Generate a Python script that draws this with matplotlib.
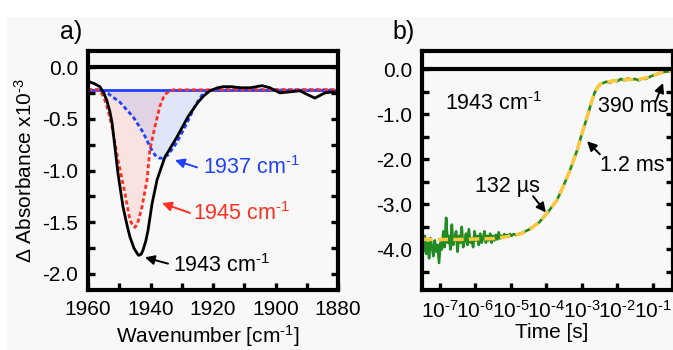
import numpy as np
import matplotlib.pyplot as plt
from matplotlib.patches import Rectangle
from matplotlib.ticker import FuncFormatter

plt.rcParams['font.family'] = ['Liberation Sans', 'DejaVu Sans']
plt.rcParams['mathtext.fontset'] = 'custom'
plt.rcParams['mathtext.rm'] = 'Liberation Sans'
plt.rcParams['mathtext.it'] = 'Liberation Sans:italic'
plt.rcParams['axes.unicode_minus'] = False

BLUE = '#2040ff'
RED = '#ff3020'
GREEN = '#228b22'
YELLOW = '#ffc83c'
BG = '#f8f8f8'
CM = r' cm$^{\text{-1}}$'

# ---- panel a: spectrum and two gaussian components ----
spec_wn = [1960, 1959.4, 1958, 1956.2, 1955, 1954, 1953, 1952.3, 1951.4, 1950.4, 1948.8,
           1947.5, 1946.6, 1945.3, 1944.3, 1943.8, 1943, 1942.4, 1941.5, 1940.8, 1939.5,
           1937.9, 1935.4, 1931.6, 1928, 1924.8, 1923, 1921, 1918.5, 1916.8, 1914, 1911.4,
           1908, 1904.3, 1901.8, 1898.6, 1895.4, 1892.2, 1889.5, 1887.4, 1884.2, 1881.6, 1880]
spec_abs = [-0.14, -0.145, -0.16, -0.19, -0.25, -0.32, -0.43, -0.54, -0.77, -1.03, -1.35,
            -1.53, -1.64, -1.75, -1.80, -1.82, -1.81, -1.77, -1.68, -1.58, -1.32,
            -1.09, -0.87, -0.68, -0.48, -0.34, -0.28, -0.23, -0.20, -0.19, -0.19, -0.20,
            -0.20, -0.18, -0.20, -0.25, -0.24, -0.23, -0.27, -0.30, -0.25, -0.24, -0.26]

red_wn = [1960, 1957, 1955.5, 1954.6, 1953.5, 1952.3, 1950.4, 1948.2, 1946.6, 1945.5, 1945,
          1944.2, 1942.7, 1941.1, 1940.2, 1938.6, 1937, 1935.8, 1934.8, 1932.8, 1880]
red_abs = [-0.22, -0.22, -0.26, -0.32, -0.43, -0.58, -0.90, -1.22, -1.48, -1.54, -1.55,
           -1.52, -1.35, -1.09, -0.80, -0.58, -0.38, -0.29, -0.25, -0.22, -0.22]

blue_wn = [1960, 1956, 1954, 1953, 1949.8, 1945.6, 1942.4, 1940.2, 1938.6, 1937.3, 1936.3,
           1934.4, 1931.6, 1928.3, 1925.8, 1923.5, 1921, 1880]
blue_abs = [-0.22, -0.22, -0.24, -0.27, -0.34, -0.48, -0.63, -0.77, -0.85, -0.88, -0.88,
            -0.85, -0.73, -0.54, -0.38, -0.27, -0.22, -0.22]
baseline = -0.22

# ---- panel b: kinetics at 1943 cm-1 ----
noisy_abs = [-3.95, -4.05, -3.70, -4.10, -3.85, -4.20, -3.75, -3.95, -4.15, -3.80, -4.05,
             -3.90, -4.30, -3.85, -4.00, -3.60, -3.95, -3.30, -3.85, -3.70, -4.00, -3.45,
             -3.90, -3.75, -3.60, -4.05, -3.70, -3.85, -3.50, -3.95, -3.80, -3.65, -3.90,
             -3.55, -3.85, -3.75, -3.95, -3.60, -3.80, -3.70, -3.90, -3.65, -3.85, -3.75,
             -3.60, -3.85, -3.70, -3.80, -3.65, -3.85, -3.70, -3.80, -3.68, -3.78, -3.62,
             -3.76, -3.70, -3.74, -3.66, -3.72, -3.68, -3.72, -3.66, -3.70, -3.67, -3.66]
noisy_logt = np.linspace(-7.5, -4.9, len(noisy_abs))

smooth_logt = [-4.86, -4.7, -4.46, -4.2, -3.98, -3.70, -3.53, -3.33, -3.13, -2.99, -2.85,
               -2.71, -2.63, -2.55, -2.49, -2.40, -2.3, -2.2, -2.1, -2.0, -1.9, -1.8, -1.7,
               -1.6, -1.5, -1.4, -1.3, -1.2, -1.08, -0.95, -0.80, -0.65, -0.5, -0.4]
smooth_abs = [-3.68, -3.64, -3.55, -3.40, -3.20, -2.91, -2.62, -2.24, -1.80, -1.42, -1.07,
              -0.69, -0.51, -0.40, -0.34, -0.31, -0.28, -0.30, -0.25, -0.27, -0.22, -0.25,
              -0.21, -0.24, -0.22, -0.25, -0.21, -0.22, -0.17, -0.13, -0.09, -0.06, -0.05, -0.03]

fit_logt = [-7.5, -6.5, -5.5, -5.2, -4.9, -4.7, -4.46, -4.2, -3.98, -3.70, -3.53, -3.33,
            -3.13, -2.99, -2.85, -2.71, -2.63, -2.55, -2.49, -2.3, -2.0, -1.7, -1.4, -1.1,
            -0.8, -0.6, -0.4]
fit_abs = [-3.78, -3.78, -3.76, -3.73, -3.69, -3.65, -3.55, -3.40, -3.20, -2.91, -2.62, -2.24,
           -1.80, -1.42, -1.07, -0.69, -0.51, -0.40, -0.34, -0.29, -0.25, -0.23, -0.23, -0.18,
           -0.09, -0.05, -0.03]

fig = plt.figure(figsize=(6.73, 3.5), dpi=100)
fig.patches.append(Rectangle((7 / 673, 0), 1, 333 / 350, transform=fig.transFigure,
                             facecolor=BG, edgecolor='none', zorder=-10))

ax1 = fig.add_axes([88 / 673, 60 / 350, 250 / 673, 239 / 350])
ax2 = fig.add_axes([422 / 673, 60 / 350, 251 / 673, 239 / 350])

for ax in (ax1, ax2):
    ax.set_facecolor('none')
    for s in ax.spines.values():
        s.set_linewidth(3)
    ax.tick_params(which='both', direction='in', length=5, width=2.4,
                   left=True, right=True, bottom=True, top=False, labelsize=15, pad=7)
    ax.axhline(0, color='black', lw=3, zorder=3)

# panel a
ax1.fill_between(red_wn, red_abs, baseline, color=RED, alpha=0.1, lw=0)
ax1.fill_between(blue_wn, blue_abs, baseline, color=BLUE, alpha=0.1, lw=0)
ax1.axhline(baseline, color=BLUE, lw=2)
ax1.plot(blue_wn, blue_abs, color=BLUE, lw=2, ls=(0, (1.5, 1)))
ax1.plot(red_wn, red_abs, color=RED, lw=2, ls=(0, (1.5, 1)))
ax1.plot(spec_wn, spec_abs, color='black', lw=2)
ax1.set_xlim(1960, 1880)
ax1.set_ylim(-2.155, 0.155)
ax1.set_xticks([1960, 1940, 1920, 1900, 1880])
ax1.set_xticks([1950, 1930, 1910, 1890], minor=True)
ax1.set_yticks([0.0, -0.5, -1.0, -1.5, -2.0])
ax1.set_yticks([-0.25, -0.75, -1.25, -1.75], minor=True)
ax1.yaxis.set_major_formatter(plt.FormatStrFormatter('%.1f'))
ax1.set_xlabel('Wavenumber [cm$^{\\text{-1}}$]', fontsize=15)
ax1.xaxis.set_label_coords(0.48, -0.14)
ax1.set_ylabel('Δ Absorbance x10$^{\\text{-3}}$', fontsize=15)
ax1.yaxis.set_label_coords(-0.21, 0.5)

arrow = dict(arrowstyle='-|>', lw=1.4, mutation_scale=14, shrinkA=0, shrinkB=0)
ax1.annotate('', xy=(1932.2, -0.90), xytext=(1925.1, -0.97),
             arrowprops=dict(arrow, color=BLUE))
ax1.text(1923.2, -0.97, '1937' + CM, color=BLUE, fontsize=15.5, va='center')
ax1.annotate('', xy=(1936.3, -1.315), xytext=(1927.4, -1.41),
             arrowprops=dict(arrow, color=RED))
ax1.text(1926.4, -1.42, '1945' + CM, color=RED, fontsize=15.5, va='center')
ax1.annotate('', xy=(1941.8, -1.84), xytext=(1934.4, -1.90),
             arrowprops=dict(arrow, color='black'))
ax1.text(1932.8, -1.915, '1943' + CM, color='black', fontsize=15.5, va='center')

# panel b
t_noisy = 10 ** noisy_logt
t_smooth = 10 ** np.array(smooth_logt)
t_fit = 10 ** np.array(fit_logt)
ax2.plot(np.concatenate([t_noisy, t_smooth]), noisy_abs + smooth_abs, color=GREEN, lw=1.9)
ax2.plot(t_fit, fit_abs, color=YELLOW, lw=2.5, ls=(0, (3, 1.5)))
ax2.set_xscale('log')
ax2.set_xlim(10 ** -7.5, 10 ** -0.43)
ax2.set_ylim(-4.9, 0.4)
ax2.set_xticks([10.0 ** e for e in range(-7, 0)])
ax2.xaxis.set_minor_locator(plt.NullLocator())
ax2.xaxis.set_major_formatter(FuncFormatter(
    lambda v, pos: '10$^{\\text{-%d}}$' % round(-np.log10(v))))
ax2.set_yticks([0.0, -1.0, -2.0, -3.0, -4.0])
ax2.set_yticks([-0.5, -1.5, -2.5, -3.5, -4.5], minor=True)
ax2.yaxis.set_major_formatter(plt.FormatStrFormatter('%.1f'))
ax2.set_xlabel('Time [s]', fontsize=15)
ax2.xaxis.set_label_coords(0.518, -0.14)

ax2.text(10 ** -6.85, -0.76, '1943' + CM, fontsize=15.5, va='center')
ax2.text(10 ** -2.54, -0.84, '390 ms', fontsize=15.5, va='center')
ax2.annotate('', xy=(10 ** -0.71, -0.31), xytext=(10 ** -0.91, -0.71),
             arrowprops=dict(arrow, color='black'))
ax2.text(10 ** -2.49, -2.13, '1.2 ms', fontsize=15.5, va='center')
ax2.annotate('', xy=(10 ** -2.85, -1.60), xytext=(10 ** -2.49, -1.89),
             arrowprops=dict(arrow, color='black'))
ax2.text(10 ** -6.01, -2.60, '132 µs', fontsize=15.5, va='center')
ax2.annotate('', xy=(10 ** -4.01, -3.18), xytext=(10 ** -4.37, -2.82),
             arrowprops=dict(arrow, color='black'))

fig.text(71 / 673, 1 - 32 / 350, 'a)', fontsize=18, ha='center', va='center')
fig.text(404 / 673, 1 - 32 / 350, 'b)', fontsize=18, ha='center', va='center')

fig.savefig('out.png', dpi=100)
